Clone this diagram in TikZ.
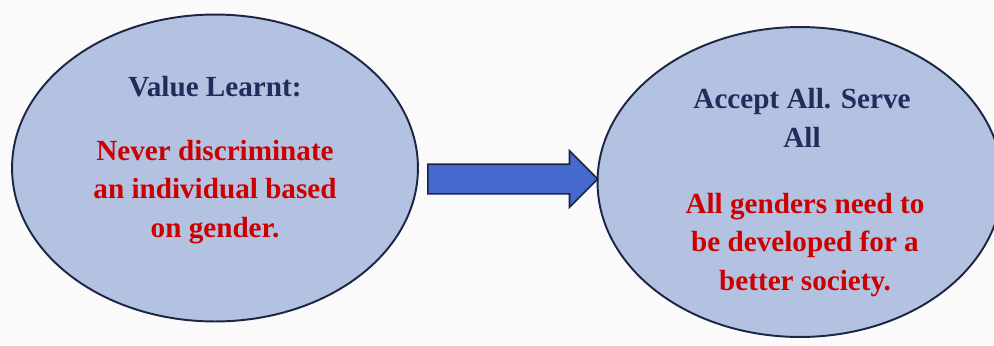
\documentclass[tikz,border=0pt]{standalone}
\usepackage{fontspec}
\setmainfont{Liberation Serif}
\usetikzlibrary{shapes.geometric,shapes.arrows}
\definecolor{ovalfill}{HTML}{B4C2E2}
\definecolor{ovalline}{HTML}{1C2545}
\definecolor{navytext}{HTML}{1F2D5C}
\definecolor{redtext}{HTML}{CC0000}
\definecolor{arrowfill}{HTML}{4569CC}
\tikzset{
  oval/.style={ellipse, draw=ovalline, fill=ovalfill, line width=1.1pt, inner sep=0pt},
  title/.style={font=\fontsize{16.6}{22}\selectfont\bfseries, text=navytext, align=center},
  body/.style={font=\fontsize{16.6}{22}\selectfont\bfseries, text=redtext, align=center},
}
\begin{document}
\begin{tikzpicture}[x=0.02cm,y=-0.02cm]
	\fill[white!98!black] (0,0) rectangle (994,345);
	\useasboundingbox (0,0) rectangle (994,345);
	\node[oval, minimum width=8.12cm, minimum height=6.14cm] (learnt) at (215,168) {};
	\node[oval, minimum width=8.1cm, minimum height=6.2cm] (serve) at (800,182) {};
	\node[single arrow, draw=ovalline, fill=arrowfill, line width=0.9pt,
		minimum height=3.4cm, inner sep=0.28cm, single arrow head extend=0.27cm,
		single arrow tip angle=90, anchor=tail] (link) at (427,179) {};
	\node[title] (learnthead) at (215,87) {Value Learnt:};
	\node[body] (learntbody) at (215,192) {Never discriminate\\an individual based\\on gender.};
	\node[title] (servehead) at (802,118) {Accept All. Serve\\All};
	\node[body] (servebody) at (805,245) {All genders need to\\be developed for a\\better society.};
\end{tikzpicture}
\end{document}
